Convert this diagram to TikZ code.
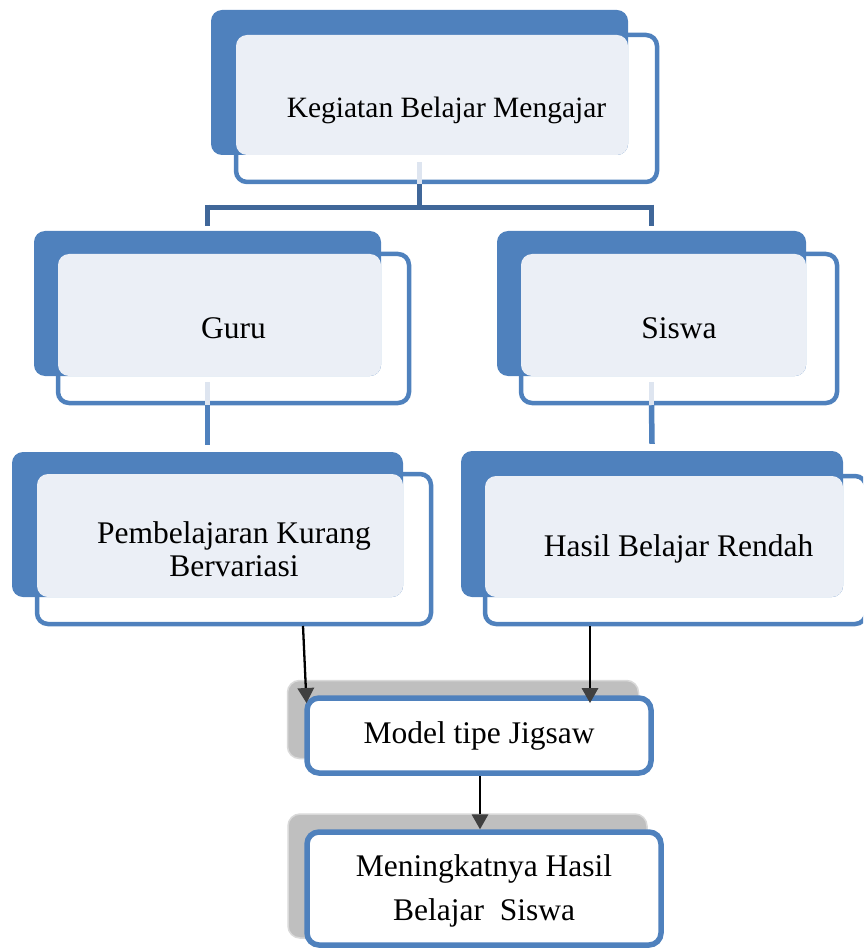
\documentclass[tikz,border=0pt]{standalone}
\usepackage{fontspec}
\setmainfont{Liberation Serif}
\usetikzlibrary{arrows.meta,calc}
\definecolor{accblue}{RGB}{79,129,189}
\definecolor{darkconn}{RGB}{64,103,153}
\definecolor{lightfill}{RGB}{235,239,246}
\definecolor{lightline}{RGB}{222,229,240}
\definecolor{backgray}{RGB}{191,191,191}
\definecolor{arrowgray}{RGB}{64,64,64}
\tikzset{
  backbox/.style={rectangle, rounded corners=11pt, fill=accblue, draw=none, inner sep=0pt},
  frontbox/.style={rectangle, rounded corners=11pt, fill=white, draw=accblue, line width=4.5pt, inner sep=0pt},
  lightbox/.style={rectangle, rounded corners=11pt, fill=lightfill, draw=none, inner sep=0pt},
  graybox/.style={rectangle, rounded corners=12pt, fill=backgray, draw=black!15, line width=1.5pt, inner sep=0pt},
  lowbox/.style={rectangle, rounded corners=12pt, fill=white, draw=accblue, line width=5.5pt, inner sep=0pt},
  txt/.style={inner sep=0pt, align=center, font=\fontsize{31.5}{33}\selectfont},
  treeline/.style={draw=darkconn, line width=5pt},
  bluecon/.style={draw=accblue, line width=5.5pt},
  lightcon/.style={draw=lightline, line width=5pt},
  arr/.style={draw=black, line width=2.3pt, -{Triangle[width=17pt,length=15pt,fill=arrowgray,line width=0pt]}}
}
\begin{document}
\begin{tikzpicture}[x=1pt,y=-1pt]
\useasboundingbox (0,0) rectangle (863,949);
\begin{scope}
\clip (0,0) rectangle (863,949);
% ---------- top box ----------
\node[frontbox, minimum width=421pt, minimum height=147pt] (kegF) at (446.5,108.5) {};
\node[backbox, minimum width=417pt, minimum height=145pt] (kegB) at (419.5,82.5) {};
\node[lightbox, minimum width=392pt, minimum height=120pt] (kegL) at (432,95) {};
\draw[lightcon] ($(kegB.south)+(0,7)$) -- (kegB.south |- kegF.south);
\node[txt, font=\fontsize{29.5}{33}\selectfont] (keg) at (446.5,110) {Kegiatan Belajar Mengajar};

% ---------- Guru ----------
\node[frontbox, minimum width=351pt, minimum height=149pt] (guruF) at (233.5,328.5) {};
\node[backbox, minimum width=347pt, minimum height=145pt] (guruB) at (207.5,303.5) {};
\node[lightbox, minimum width=323pt, minimum height=122pt] (guruL) at (219.5,315) {};
\node[txt] (guru) at (guruF) {Guru};

% ---------- Siswa ----------
\node[frontbox, minimum width=316pt, minimum height=149pt] (siswaF) at (679,328.5) {};
\node[backbox, minimum width=309pt, minimum height=145pt] (siswaB) at (651.5,303.5) {};
\node[lightbox, minimum width=285pt, minimum height=122pt] (siswaL) at (663.5,315) {};
\node[txt] (siswa) at (siswaF) {Siswa};

% ---------- Pembelajaran ----------
\node[frontbox, minimum width=394pt, minimum height=150pt] (pembF) at (234,549) {};
\node[backbox, minimum width=391pt, minimum height=145pt] (pembB) at (207.5,524.5) {};
\node[lightbox, minimum width=366pt, minimum height=123pt] (pembL) at (220,535.5) {};
\node[txt, font=\fontsize{31.5}{33.5}\selectfont] (pemb) at (234,549) {Pembelajaran Kurang\\Bervariasi};

% ---------- Hasil Belajar Rendah ----------
\node[frontbox, minimum width=381pt, minimum height=148pt] (hasilF) at (675.5,550) {};
\node[backbox, minimum width=382pt, minimum height=146pt] (hasilB) at (652,524) {};
\node[lightbox, minimum width=358pt, minimum height=121pt] (hasilL) at (664,536.5) {};
\node[txt] (hasil) at (678.5,549) {Hasil Belajar Rendah};

% ---------- tree connectors ----------
\coordinate (junc) at ($(kegB.south |- kegF.south)+(0,23)$);
\draw[treeline] (kegB.south |- kegF.south) -- (junc);
\draw[treeline, line cap=butt] (junc -| guruB.north) -- (junc -| siswaB.north);
\draw[treeline] ([yshift=2.5pt]junc -| guruB.north) -- ($(guruB.north)+(0,-5)$);
\draw[treeline] ([yshift=2.5pt]junc -| siswaB.north) -- ($(siswaB.north)+(0,-5)$);

\draw[lightcon] ($(guruB.south)+(0,6)$) -- (guruB.south |- guruF.south);
\draw[bluecon] (guruB.south |- guruF.south) -- ($(pembB.north)+(0,-7)$);
\draw[lightcon] ($(siswaB.south)+(0,6)$) -- (siswaB.south |- siswaF.south);
\draw[bluecon] (siswaB.south |- siswaF.south) -- ($(hasilB.north)+(0,-7)$);

% ---------- Model tipe Jigsaw ----------
\node[graybox, minimum width=351pt, minimum height=78pt] (modelB) at (463,719.5) {};
\node[lowbox, minimum width=344pt, minimum height=75pt] (modelF) at (479,735.5) {};
\node[txt] (model) at (modelF) {Model tipe Jigsaw};

% ---------- Meningkatnya ----------
\node[graybox, minimum width=359pt, minimum height=124pt] (menB) at (467.5,876) {};
\node[lowbox, minimum width=354pt, minimum height=113pt] (menF) at (484,888.5) {};
\node[txt, font=\fontsize{31.5}{44}\selectfont] (men) at (484,891) {Meningkatnya Hasil\\Belajar\ \ Siswa};

% ---------- arrows ----------
\coordinate (a1s) at (303,626);
\coordinate (a1e) at (306.5,703);
\coordinate (a2s) at (590,626);
\coordinate (a2e) at (590,703);
\coordinate (a3s) at (480,776);
\draw[arr] (a1s) -- (a1e);
\draw[arr] (a2s) -- (a2e);
\draw[arr] (a3s) -- (a3s |- menF.north);
\end{scope}
\end{tikzpicture}
\end{document}
